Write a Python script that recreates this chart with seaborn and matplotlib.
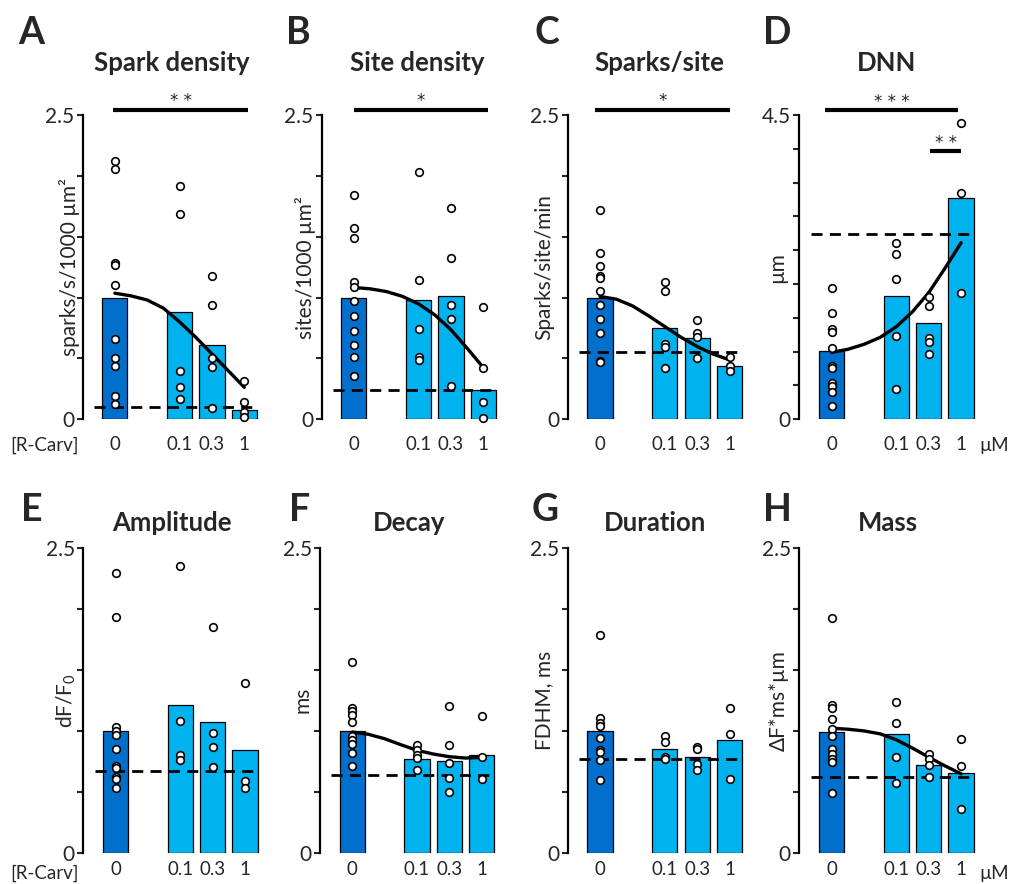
import numpy as np
import pandas as pd
import matplotlib
matplotlib.use("Agg")
import matplotlib.pyplot as plt
import seaborn as sns

sns.set_style("white")
plt.rcParams["font.family"] = ["Lato", "DejaVu Sans"]
plt.rcParams["mathtext.fontset"] = "custom"
plt.rcParams["mathtext.rm"] = "Lato"
plt.rcParams["mathtext.it"] = "Lato:italic"

# ---------------- data ----------------
conc_labels = ["0", "0.1", "0.3", "1"]
bar_pos = [0, 2, 3, 4]
curve_x = [0, 0.5, 1, 1.5, 2, 2.5, 3, 3.5, 4]

letters = ["A", "B", "C", "D", "E", "F", "G", "H"]
titles = ["Spark density", "Site density", "Sparks/site", "DNN",
          "Amplitude", "Decay", "Duration", "Mass"]
ylabels = ["sparks/s/1000 µm²", "sites/1000 µm²", "Sparks/site/min", "µm",
           "dF/F$_0$", "ms", "FDHM, ms", "ΔF*ms*µm"]
ymax = [2.5, 2.5, 2.5, 4.5, 2.5, 2.5, 2.5, 2.5]

bars_A = [1.0, 0.88, 0.61, 0.077]
dots_A = [[2.125, 2.06, 1.283, 1.266, 1.10, 0.66, 0.507, 0.441, 0.19, 0.126],
          [1.92, 1.69, 0.40, 0.266, 0.164],
          [1.18, 0.935, 0.507, 0.428, 0.09],
          [0.318, 0.143, 0.058, 0.015]]
dashed_A = 0.104
curve_A = [1.036, 1.014, 0.98, 0.913, 0.80, 0.674, 0.537, 0.40, 0.263]

bars_B = [1.0, 0.98, 1.01, 0.241]
dots_B = [[1.845, 1.571, 1.488, 1.124, 1.091, 0.973, 0.847, 0.724, 0.614, 0.51, 0.354],
          [2.034, 1.146, 0.743, 0.515, 0.488],
          [1.735, 1.327, 0.943, 0.828, 0.277],
          [0.924, 0.425, 0.145, 0.014]]
dashed_B = 0.241
curve_B = [1.083, 1.072, 1.05, 1.01, 0.948, 0.858, 0.735, 0.584, 0.425]

bars_C = [1.0, 0.748, 0.672, 0.439]
dots_C = [[1.721, 1.365, 1.261, 1.181, 1.16, 1.055, 0.943, 0.82, 0.707, 0.48, 0.469],
          [1.127, 1.055, 0.617, 0.592, 0.419],
          [0.817, 0.707, 0.68, 0.507],
          [0.515, 0.441, 0.40]]
dashed_C = 0.551
curve_C = [1.009, 0.987, 0.932, 0.85, 0.762, 0.674, 0.598, 0.535, 0.488]

bars_D = [1.01, 1.829, 1.429, 3.268]
dots_D = [[1.947, 1.577, 1.331, 1.296, 1.05, 0.793, 0.764, 0.532, 0.498, 0.399, 0.197],
          [2.612, 2.44, 2.075, 1.227, 0.448],
          [1.814, 1.676, 1.207, 1.139, 0.961],
          [4.376, 3.351, 1.863]]
dashed_D = 2.735
curve_D = [0.99, 1.035, 1.109, 1.212, 1.37, 1.592, 1.873, 2.233, 2.612]

bars_E = [0.997, 1.212, 1.07, 0.844]
dots_E = [[2.288, 1.928, 1.035, 1.002, 0.967, 0.85, 0.716, 0.697, 0.621, 0.605, 0.528],
          [2.35, 1.081, 0.80, 0.76],
          [1.846, 0.98, 0.866, 0.703],
          [1.394, 0.588, 0.531]]
dashed_E = 0.67
curve_E = None

bars_F = [0.998, 0.766, 0.752, 0.799]
dots_F = [[1.565, 1.19, 1.16, 1.127, 1.072, 0.957, 0.927, 0.889, 0.818, 0.711],
          [0.881, 0.84, 0.804, 0.777, 0.678],
          [1.201, 0.881, 0.736, 0.613, 0.498],
          [1.119, 0.782, 0.602]]
dashed_F = 0.635
curve_F = [0.99, 0.971, 0.935, 0.886, 0.84, 0.81, 0.788, 0.777, 0.782]

bars_G = [0.997, 0.847, 0.784, 0.923]
dots_G = [[1.781, 1.101, 1.066, 1.038, 0.937, 0.842, 0.825, 0.765, 0.601],
          [0.956, 0.907, 0.787, 0.768],
          [0.869, 0.855, 0.732, 0.683],
          [1.183, 0.975, 0.607]]
dashed_G = 0.77
curve_G = None

bars_H = [0.994, 0.97, 0.719, 0.654]
dots_H = [[1.925, 1.212, 1.19, 1.095, 1.013, 0.956, 0.85, 0.812, 0.768, 0.743, 0.49],
          [1.236, 1.062, 0.784, 0.572],
          [0.81, 0.768, 0.724, 0.621],
          [0.929, 0.708, 0.359]]
dashed_H = 0.626
curve_H = [1.021, 1.013, 0.999, 0.975, 0.926, 0.858, 0.784, 0.713, 0.648]

# significance: (x_start, x_end, y, label)
sig = {
    0: [(-0.06, 4.12, 2.545, "* *")],
    1: [(0.0, 4.13, 2.545, "*")],
    2: [(-0.15, 4.0, 2.545, "*")],
    3: [(-0.2, 3.9, 4.574, "* * *"), (3.04, 4.0, 3.967, "* *")],
}

panels = [
    (bars_A, dots_A, dashed_A, curve_A),
    (bars_B, dots_B, dashed_B, curve_B),
    (bars_C, dots_C, dashed_C, curve_C),
    (bars_D, dots_D, dashed_D, curve_D),
    (bars_E, dots_E, dashed_E, curve_E),
    (bars_F, dots_F, dashed_F, curve_F),
    (bars_G, dots_G, dashed_G, curve_G),
    (bars_H, dots_H, dashed_H, curve_H),
]

# ---------------- layout ----------------
W, H = 1018, 884
fig = plt.figure(figsize=(W / 100, H / 100), dpi=100)

lefts = [82.5, 321.5, 567.7, 799.3, 83.3, 320, 567.7, 799.3]
row_top = [115, 547.5]
row_bot = [419.3, 853.0]
ax_w = 178.0
ylab_off = [-3, -5, -13, -12, -5, -8, -14, -11]
title_x = [172, 417, 659, 887, 172, 409, 655, 888]
letter_x = [31, 298, 547, 777, 32, 300, 545, 777]
title_y = [63, 523]
letter_y = [33, 510]

dark = "#0070CC"
light = "#00B2EE"
pal = {c: (dark if i == 0 else light) for i, c in enumerate(conc_labels)}

for i, (bars, dots, dashed, curve) in enumerate(panels):
    r = i // 4
    top, bot = row_top[r], row_bot[r]
    ax = fig.add_axes([lefts[i] / W, 1 - bot / H, ax_w / W, (bot - top) / H])

    bdf = pd.DataFrame({"pos": bar_pos, "conc": conc_labels, "value": bars})
    sns.barplot(data=bdf, x="pos", y="value", hue="conc", palette=pal,
                native_scale=True, legend=False, edgecolor="black",
                linewidth=0.9, width=0.78, saturation=1, ax=ax, zorder=2)

    rows = []
    for p, vals in zip(bar_pos, dots):
        for v in vals:
            rows.append((p, v))
    ddf = pd.DataFrame(rows, columns=["pos", "value"])

    ax.plot([-0.65, 4.4], [dashed, dashed], color="black", lw=2.0,
            ls=(0, (4, 2.6)), zorder=3)

    if curve is not None:
        sns.lineplot(x=curve_x, y=curve, color="black", linewidth=2.4,
                     ax=ax, zorder=5, estimator=None)

    sns.scatterplot(data=ddf, x="pos", y="value", color="white",
                    edgecolor="black", s=30, linewidth=1.2, zorder=6,
                    clip_on=False, legend=False, ax=ax)

    for (x0, x1, yv, lab) in sig.get(i, []):
        ax.plot([x0, x1], [yv, yv], color="black", lw=3.0, clip_on=False,
                solid_capstyle="butt")
        ax.annotate(lab, xy=((x0 + x1) / 2, yv), xytext=(0, 6),
                    textcoords="offset points", ha="center", va="center",
                    fontsize=12, family=["DejaVu Sans"], color="#222222",
                    annotation_clip=False)

    ym = ymax[i]
    ax.set_xlim(-1.0, 4.5)
    ax.set_ylim(0, ym)
    yt = np.arange(0, ym + 0.01, 0.5)
    ax.set_yticks(yt)
    ax.set_yticklabels(["0"] + [""] * (len(yt) - 2) + [f"{ym:g}"])
    ax.set_xticks(bar_pos)
    ax.set_xticklabels(conc_labels)
    ax.tick_params(axis="y", direction="out", length=4, width=1.5,
                   labelsize=15, pad=2, left=True)
    ax.tick_params(axis="x", length=0, labelsize=13.5, pad=12 if r == 0 else 6)
    for s in ["top", "right", "bottom"]:
        ax.spines[s].set_visible(False)
    ax.spines["left"].set_linewidth(1.6)
    ax.spines["left"].set_color("black")
    ax.set_xlabel("")
    ax.set_ylabel(ylabels[i], fontsize=15)
    ax.yaxis.set_label_coords(ylab_off[i] / ax_w, 0.5)

    fig.text(title_x[i] / W, 1 - title_y[r] / H, titles[i], ha="center",
             va="center", fontsize=18.5, fontweight="bold")
    fig.text(letter_x[i] / W, 1 - letter_y[r] / H, letters[i], ha="center",
             va="center", fontsize=27, fontweight="bold")

for r, yy in enumerate([445, 873]):
    fig.text(45 / W, 1 - yy / H, "[R-Carv]", ha="center", va="center", fontsize=13.5)
    fig.text(994 / W, 1 - yy / H, "µM", ha="center", va="center", fontsize=13.5)

fig.savefig("out.png", dpi=100, facecolor="white")
